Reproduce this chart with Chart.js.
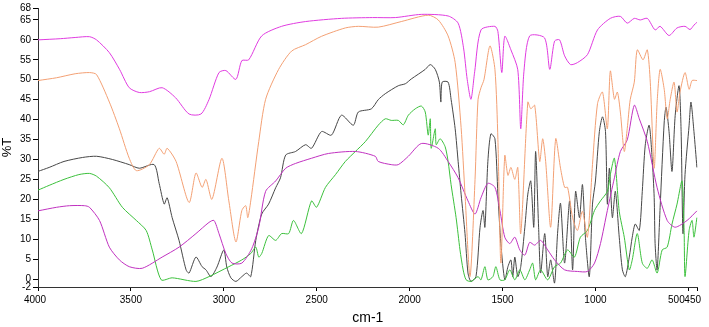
<!DOCTYPE html>
<html>
<head>
<meta charset="utf-8">
<script src="https://cdn.jsdelivr.net/npm/chart.js@4/dist/chart.umd.min.js"></script>
<style>
  html, body { margin: 0; padding: 0; background: #ffffff; }
  #wrap { width: 709px; height: 327px; }
</style>
</head>
<body>
<div id="wrap"><canvas id="c" width="709" height="327"></canvas></div>
<script>
// ---- tick labels ----
const xTicks = [4000, 3500, 3000, 2500, 2000, 1500, 1000, 500, 450];
const yTicks = [68, 65, 60, 55, 50, 45, 40, 35, 30, 25, 20, 15, 10, 5, 0, -2];

// ---- series 1: top magenta ----
const magentaWn = [4000,3880,3800,3723,3685,3616,3560,3509,3455,3400,3332,3260,3187,3123,3080,3026,2989,2935,2903,2866,2796,2689,2560,2367,2200,2077,1937,1793,1739,1710,1690,1670,1650,1616,1541,1525,1504,1488,1455,1418,1402,1385,1354,1274,1246,1220,1193,1166,1134,1097,1043,989,920,866,829,791,759,721,679,652,604,561,518,491,470,454];
const magentaT  = [60.0,60.3,60.6,60.8,60.0,56.8,52.5,48.0,46.8,47.0,48.0,45.5,41.4,41.4,45.0,51.8,52.3,50.1,54.8,55.0,61.0,63.4,64.6,65.4,65.6,65.6,66.4,66.0,64.2,58.0,50.0,45.1,52.0,62.5,63.4,62.1,51.8,60.9,57.5,52.5,37.7,52.0,61.0,60.5,52.6,59.7,60.0,56.0,53.8,54.3,56.3,62.5,65.4,65.9,64.2,65.4,65.0,65.4,62.5,63.4,61.1,63.0,63.4,62.6,63.7,64.4];

// ---- series 2: orange ----
const orangeWn = [4000,3900,3800,3723,3685,3616,3562,3509,3471,3401,3348,3321,3305,3257,3187,3150,3117,3096,3064,3010,2973,2935,2903,2882,2871,2855,2812,2775,2705,2635,2560,2474,2346,2276,2169,2045,1900,1846,1793,1755,1723,1702,1675,1648,1632,1616,1600,1568,1541,1525,1509,1488,1471,1455,1434,1418,1402,1364,1348,1327,1300,1284,1268,1241,1214,1188,1166,1150,1123,1097,1070,1043,1016,989,962,936,920,898,882,866,845,829,813,791,775,744,721,705,684,668,652,630,614,598,577,561,545,518,496,480,454];
const orangeT  = [49.8,50.5,51.5,51.8,51.3,44.4,37.7,30.3,27.2,28.7,32.8,31.3,32.8,29.5,19.2,26.6,23.0,25.0,20.0,30.3,19.6,9.3,17.2,18.4,15.4,19.6,34.5,45.1,52.6,57.2,58.8,60.9,63.0,63.4,63.2,64.6,66.2,65.0,61.0,54.3,38.0,21.3,0.6,25.0,45.0,48.0,50.0,58.5,52.6,35.0,4.0,31.0,26.0,28.0,25.0,28.0,11.4,44.4,42.7,43.6,29.5,35.2,29.5,13.0,35.2,27.8,23.0,23.0,15.4,12.2,17.0,10.5,28.7,44.0,46.9,37.7,52.2,45.1,46.9,41.9,32.0,37.7,45.0,49.4,57.5,55.0,57.5,49.4,27.8,44.4,52.6,47.6,40.2,45.0,49.4,41.9,46.9,51.8,47.6,49.8,49.8];

// ---- series 3: dark grey ----
const greyWn = [4000,3940,3860,3760,3685,3600,3509,3455,3375,3348,3321,3305,3278,3241,3203,3187,3150,3117,3096,3069,3037,3000,2984,2962,2935,2903,2877,2855,2828,2796,2759,2721,2695,2667,2614,2560,2528,2474,2421,2367,2303,2276,2206,2169,2131,2061,2023,1991,1916,1889,1862,1840,1832,1825,1793,1777,1755,1739,1723,1702,1686,1670,1643,1621,1605,1595,1579,1563,1541,1525,1509,1488,1471,1455,1445,1434,1418,1402,1380,1364,1348,1332,1322,1306,1295,1273,1257,1241,1220,1204,1188,1166,1139,1123,1107,1086,1070,1054,1033,1016,1000,979,962,946,936,925,909,893,872,855,839,818,802,786,764,748,732,711,695,684,679,668,652,630,620,604,588,571,550,539,529,518,496,486,470,454];
const greyT  = [27.0,28.0,29.5,30.5,30.8,30.0,28.7,27.8,28.7,24.0,18.8,20.4,15.4,9.7,2.3,1.5,5.5,3.1,2.3,0.6,3.0,7.3,3.0,0.3,-0.6,0.6,1.5,0.6,9.7,16.3,18.8,22.9,25.4,31.1,32.0,33.7,32.8,37.0,36.1,41.1,38.6,41.9,42.7,45.0,46.5,48.5,49.0,50.2,52.6,53.8,52.6,49.4,44.4,49.4,49.4,45.1,37.7,29.5,21.3,11.4,1.5,-0.6,0.6,13.0,17.2,13.0,29.5,36.4,35.2,21.3,8.9,-0.2,3.1,4.8,0.6,5.5,0.6,3.1,13.0,21.3,24.6,13.0,32.0,13.0,1.5,11.4,0.6,4.8,-1.0,11.4,19.0,4.0,19.6,2.3,22.0,15.4,23.7,10.5,0.6,18.8,24.6,37.0,40.7,37.0,18.8,27.8,15.4,22.0,10.5,2.3,0.6,5.5,10.5,13.8,12.2,22.0,33.6,38.6,30.3,20.5,8.9,2.3,18.0,39.4,43.1,37.0,27.0,41.0,48.5,37.0,11.4,26.2,38.6,44.4,37.0,28.0];

// ---- series 4: green ----
const greenWn = [4000,3940,3860,3780,3723,3685,3616,3546,3471,3418,3385,3337,3278,3150,3080,2973,2903,2855,2828,2812,2796,2759,2721,2689,2651,2625,2582,2528,2501,2453,2399,2346,2292,2238,2169,2131,2099,2061,2034,2007,1970,1937,1916,1900,1889,1884,1862,1857,1836,1809,1793,1777,1750,1729,1712,1696,1670,1632,1616,1595,1579,1552,1536,1514,1488,1461,1434,1407,1380,1354,1338,1322,1295,1257,1220,1188,1150,1113,1081,1043,1005,973,936,920,898,872,845,818,802,775,748,721,695,668,641,614,588,561,534,523,518,496,480,470,454];
const greenT  = [22.3,23.5,25.0,26.2,26.5,25.8,22.9,18.0,14.7,12.2,7.3,-0.2,0.3,-0.6,0.6,3.1,4.8,6.4,8.0,5.5,6.4,10.9,9.7,11.4,11.4,14.7,11.4,19.6,18.0,23.0,26.2,29.5,32.0,34.5,38.6,40.2,39.8,39.8,38.7,41.1,42.7,43.4,41.9,36.1,40.2,32.8,37.7,33.7,35.2,33.2,29.5,23.7,15.4,7.3,2.3,-0.2,-0.6,0.6,-0.2,3.1,-0.2,0.6,3.1,-0.2,-0.2,2.3,-0.2,2.3,-0.2,2.3,4.0,-0.2,2.3,-0.2,3.1,4.0,7.3,5.5,10.5,12.2,17.2,19.6,22.0,26.2,30.3,17.0,10.5,2.3,4.8,11.4,4.0,2.7,4.8,1.5,7.3,8.0,13.8,18.8,24.6,12.2,0.6,12.2,14.7,10.5,15.4];

// ---- series 5: lower purple ----
const purpleWn = [4000,3900,3830,3749,3723,3669,3616,3562,3509,3439,3332,3241,3150,3080,3053,3026,2989,2956,2903,2850,2812,2775,2721,2667,2614,2528,2437,2292,2185,2169,2099,2061,2007,1937,1846,1793,1739,1686,1648,1616,1579,1541,1514,1488,1461,1434,1407,1380,1354,1327,1295,1257,1220,1166,1097,1043,1005,973,936,898,866,829,791,764,721,668,614,571,507,454];
const purpleT  = [17.1,18.0,18.4,18.4,18.0,14.7,8.0,4.8,3.1,2.7,5.5,8.0,11.4,14.2,14.7,11.4,6.4,4.0,4.0,7.6,13.0,22.0,24.6,27.8,29.0,30.3,31.5,32.0,30.8,29.5,28.7,28.7,30.8,34.0,32.8,29.5,25.4,19.6,16.3,20.4,24.0,23.0,17.2,10.5,8.9,10.5,7.3,6.0,9.2,8.5,9.7,7.3,4.8,2.3,1.9,1.9,4.0,8.9,17.2,25.4,32.0,34.9,43.6,40.2,34.5,22.9,14.7,13.0,14.7,17.1];

function pts(wn, t) { return wn.map((w, i) => ({ x: w, y: t[i] })); }
function ds(label, wn, t, color) {
  return { label, data: pts(wn, t), borderColor: color, backgroundColor: color,
           borderWidth: 1, pointRadius: 0, tension: 0.25, fill: false };
}

const labelShift = {
  id: 'labelShift',
  beforeDraw(chart) {
    const s = chart.scales.x;
    const items = s.getLabelItems();
    items.forEach(it => {
      if (it.label === '500') it.options.translation[0] = s.getPixelForValue(500) - 12;
      if (it.label === '450') it.options.translation[0] = s.getPixelForValue(450) - 5;
      if (it.label === '4000') it.options.translation[0] = s.getPixelForValue(4000) - 3;
    });
  }
};

new Chart(document.getElementById('c'), {
  type: 'line',
  data: {
    datasets: [
      ds('Series 1', magentaWn, magentaT, '#e03ce0'),
      ds('Series 2', orangeWn, orangeT, '#f3a074'),
      ds('Series 5', purpleWn, purpleT, '#c032c0'),
      ds('Series 4', greenWn, greenT, '#3cc03c'),
      ds('Series 3', greyWn, greyT, '#474747')
    ]
  },
  options: {
    responsive: false,
    devicePixelRatio: 1,
    animation: false,
    layout: { padding: { top: 4, right: 8, left: 0, bottom: 0 } },
    plugins: { legend: { display: false }, tooltip: { enabled: false } },
    scales: {
      x: {
        type: 'linear', reverse: true, min: 450, max: 4000,
        afterBuildTicks: (sc) => { sc.ticks = xTicks.map(v => ({ value: v })); },
        afterFit: (sc) => { sc.height = 40; },
        ticks: { autoSkip: false, maxRotation: 0, minRotation: 0, padding: 3,
                 color: '#000', font: { family: 'Liberation Sans, Arial, sans-serif', size: 10 },
                 callback: (v) => String(v) },
        grid: { drawOnChartArea: false, drawTicks: true, tickLength: 4, tickColor: '#000' },
        border: { display: true, color: '#333', width: 1 },
        title: { display: true, text: 'cm-1', color: '#000', padding: 0,
                 font: { family: 'Liberation Sans, Arial, sans-serif', size: 14 } }
      },
      y: {
        type: 'linear', min: -2, max: 68,
        afterBuildTicks: (sc) => { sc.ticks = yTicks.map(v => ({ value: v })); },
        afterFit: (sc) => { sc.width = 38; },
        ticks: { autoSkip: false, padding: 2, color: '#000',
                 font: { family: 'Liberation Sans, Arial, sans-serif', size: 10 },
                 callback: (v) => String(v) },
        grid: { drawOnChartArea: false, drawTicks: true, tickLength: 5, tickColor: '#000' },
        border: { display: true, color: '#333', width: 1 },
        title: { display: true, text: '%T', color: '#000', padding: 0,
                 font: { family: 'Liberation Sans, Arial, sans-serif', size: 13 } }
      }
    }
  },
  plugins: [labelShift]
});
</script>
</body>
</html>
